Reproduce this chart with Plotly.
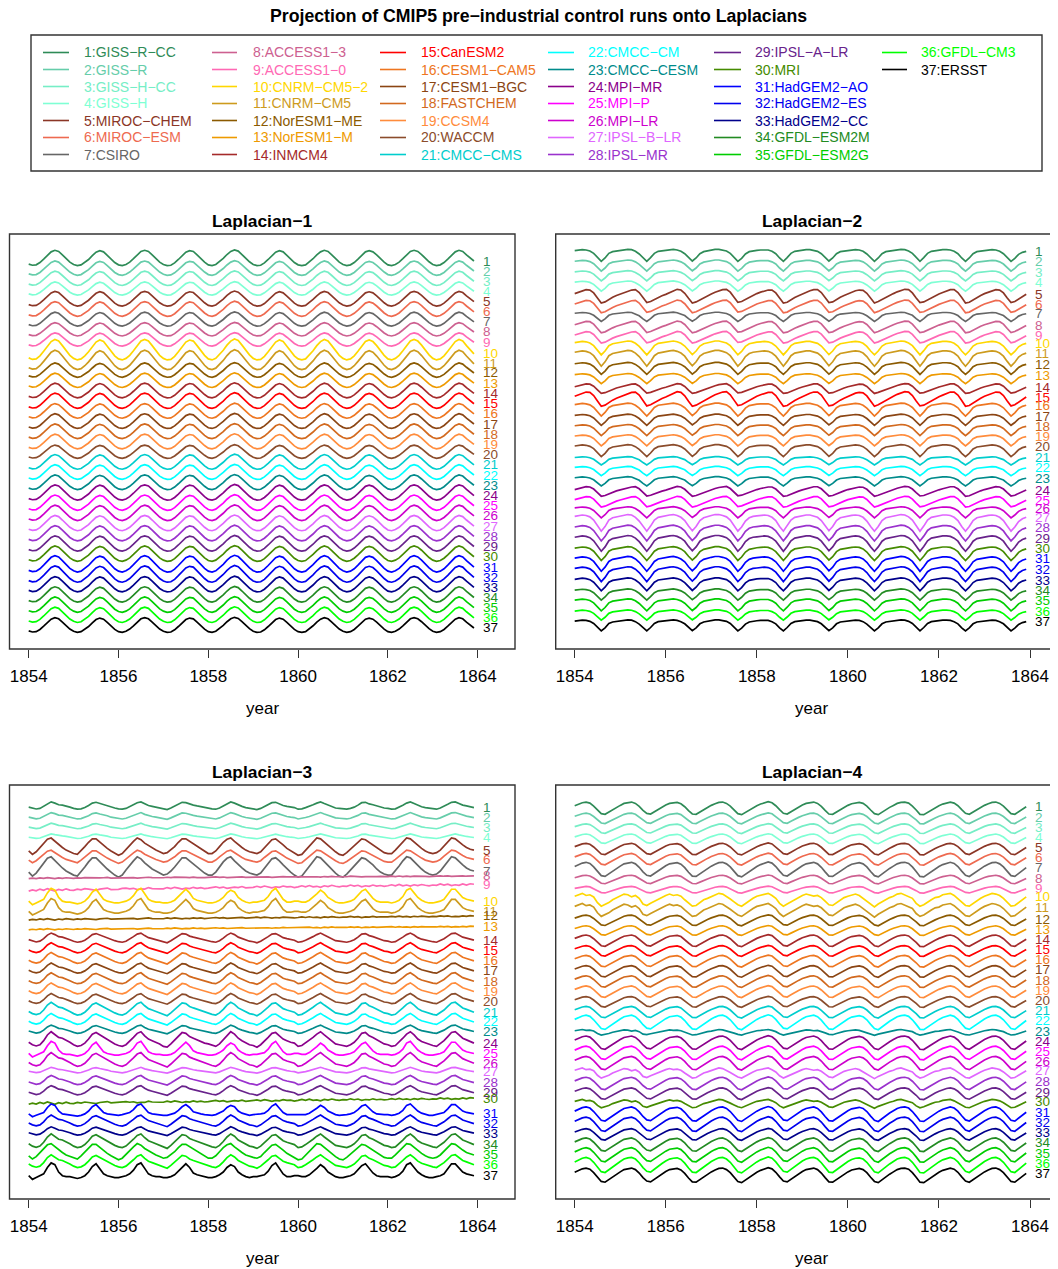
import plotly.graph_objects as go

PAGE_W, PAGE_H = 1058, 1269
OFF = 8  # default page margin around the figure
W, H = PAGE_W - OFF, PAGE_H - OFF
FONT = "Liberation Sans, Arial, Helvetica, sans-serif"
M = "\u2212"


def fx(px):
    return (px - OFF) / W


def fy(py):
    return 1 - (py - OFF) / H


models = ["GISS-R-CC", "GISS-R", "GISS-H-CC", "GISS-H", "MIROC-CHEM", "MIROC-ESM", "CSIRO",
          "ACCESS1-3", "ACCESS1-0", "CNRM-CM5-2", "CNRM-CM5", "NorESM1-ME", "NorESM1-M", "INMCM4",
          "CanESM2", "CESM1-CAM5", "CESM1-BGC", "FASTCHEM", "CCSM4", "WACCM", "CMCC-CMS",
          "CMCC-CM", "CMCC-CESM", "MPI-MR", "MPI-P", "MPI-LR", "IPSL-B-LR", "IPSL-MR",
          "IPSL-A-LR", "MRI", "HadGEM2-AO", "HadGEM2-ES", "HadGEM2-CC", "GFDL-ESM2M",
          "GFDL-ESM2G", "GFDL-CM3", "ERSST"]
colors = ["#2E8B57", "#66CDAA", "#76EEC6", "#7FFFD4", "#8B3626", "#EE6A50", "#666666",
          "#CD6090", "#FF69B4", "#FFD700", "#CD9B1D", "#8B5A00", "#EE9A00", "#A52A2A",
          "#FF0000", "#EE7621", "#8B4513", "#D2691E", "#FF8C3C", "#8B4C2B", "#00CDCD",
          "#00FFFF", "#008B8B", "#8B008B", "#FF00FF", "#CD00CD", "#E066FF", "#9A32CD",
          "#68228B", "#458B00", "#0000FF", "#0000EE", "#00008B", "#228B22", "#00CD00",
          "#00FF00", "#000000"]

years = list(range(1854, 1864))
tick_years = [1854, 1856, 1858, 1860, 1862, 1864]

# monthly shapes (one row per year, Jan..Dec)
wave_l1 = [
    [-0.8, -0.95, -0.9, -0.6, -0.15, 0.35, 0.8, 1.0, 0.85, 0.4, -0.1, -0.55],
    [-0.85, -1.0, -0.9, -0.6, -0.2, 0.3, 0.75, 0.95, 0.8, 0.35, -0.15, -0.6],
    [-0.9, -1.0, -0.85, -0.55, -0.1, 0.4, 0.85, 1.0, 0.85, 0.4, -0.1, -0.55],
    [-0.85, -1.0, -0.95, -0.65, -0.2, 0.3, 0.75, 0.95, 0.85, 0.4, -0.1, -0.55],
    [-0.9, -1.0, -0.85, -0.5, -0.05, 0.45, 0.85, 1.05, 0.9, 0.45, -0.05, -0.5],
    [-0.85, -1.0, -0.95, -0.65, -0.2, 0.3, 0.75, 0.95, 0.8, 0.35, -0.15, -0.6],
    [-0.9, -1.0, -0.9, -0.55, -0.1, 0.4, 0.8, 1.0, 0.85, 0.4, -0.1, -0.55],
    [-0.85, -1.0, -0.9, -0.6, -0.15, 0.35, 0.8, 0.95, 0.8, 0.4, -0.1, -0.55],
    [-0.9, -1.0, -0.85, -0.55, -0.1, 0.4, 0.85, 1.0, 0.85, 0.45, -0.05, -0.5],
    [-0.85, -1.0, -0.9, -0.6, -0.15, 0.35, 0.8, 1.0, 0.85, 0.4, -0.05, -0.4],
]
wave_l2a = [
    [0.6, 0.7, 0.75, 0.7, 0.55, 0.2, -0.45, -1.0, -0.5, 0.2, 0.45, 0.55],
    [0.6, 0.75, 0.8, 0.75, 0.5, 0.1, -0.5, -1.0, -0.45, 0.2, 0.5, 0.6],
    [0.65, 0.75, 0.8, 0.7, 0.5, 0.15, -0.45, -0.95, -0.5, 0.15, 0.45, 0.6],
    [0.7, 0.8, 0.8, 0.7, 0.55, 0.2, -0.4, -1.0, -0.55, 0.1, 0.45, 0.6],
    [0.65, 0.7, 0.75, 0.7, 0.5, 0.15, -0.5, -1.0, -0.45, 0.2, 0.5, 0.6],
    [0.65, 0.75, 0.75, 0.65, 0.5, 0.15, -0.4, -0.95, -0.5, 0.15, 0.45, 0.55],
    [0.6, 0.7, 0.75, 0.7, 0.5, 0.1, -0.5, -1.0, -0.5, 0.15, 0.45, 0.55],
    [0.6, 0.7, 0.8, 0.75, 0.55, 0.2, -0.45, -1.0, -0.45, 0.2, 0.5, 0.6],
    [0.65, 0.75, 0.75, 0.7, 0.5, 0.15, -0.5, -1.0, -0.5, 0.15, 0.45, 0.55],
    [0.6, 0.7, 0.75, 0.7, 0.5, 0.15, -0.45, -1.0, -0.55, 0.05, 0.35, 0.5],
]
wave_l2b = [
    [0.3, 0.5, 0.7, 0.85, 0.8, 0.4, -0.3, -1.0, -0.85, -0.5, -0.2, 0.05],
    [0.25, 0.45, 0.65, 0.8, 0.85, 0.45, -0.25, -0.95, -0.8, -0.5, -0.25, 0.0],
    [0.2, 0.45, 0.7, 0.9, 0.8, 0.35, -0.35, -1.0, -0.85, -0.55, -0.25, 0.0],
    [0.25, 0.5, 0.7, 0.85, 0.9, 0.5, -0.2, -0.9, -0.8, -0.5, -0.2, 0.05],
    [0.3, 0.5, 0.65, 0.8, 0.8, 0.4, -0.3, -1.0, -0.9, -0.55, -0.25, 0.0],
    [0.25, 0.45, 0.7, 0.85, 0.85, 0.45, -0.25, -0.95, -0.85, -0.5, -0.2, 0.05],
    [0.3, 0.5, 0.7, 0.8, 0.75, 0.35, -0.35, -1.0, -0.8, -0.5, -0.2, 0.05],
    [0.3, 0.55, 0.75, 0.9, 0.85, 0.4, -0.3, -0.95, -0.85, -0.55, -0.25, 0.0],
    [0.25, 0.45, 0.65, 0.85, 0.85, 0.45, -0.25, -1.0, -0.9, -0.55, -0.2, 0.05],
    [0.3, 0.5, 0.7, 0.85, 0.8, 0.4, -0.3, -0.95, -0.8, -0.45, -0.1, 0.2],
]
wave_l3a = [
    [-0.3, -0.6, -0.75, -0.6, -0.1, 0.6, 1.0, 0.7, 0.3, 0.2, 0.0, -0.3],
    [-0.6, -0.8, -0.7, -0.4, 0.1, 0.7, 0.9, 0.6, 0.4, 0.1, -0.3, -0.5],
    [-0.7, -0.8, -0.6, -0.2, 0.3, 0.8, 1.0, 0.5, 0.1, -0.1, -0.3, -0.5],
    [-0.8, -0.9, -0.5, 0.0, 0.4, 0.9, 0.8, 0.4, 0.2, 0.0, -0.2, -0.4],
    [-0.5, -0.7, -0.8, -0.5, 0.0, 0.6, 1.0, 0.7, 0.2, -0.1, -0.4, -0.6],
    [-0.7, -0.9, -0.6, -0.2, 0.3, 0.8, 0.9, 0.5, 0.1, -0.1, -0.3, -0.4],
    [-0.8, -0.7, -0.4, -0.1, 0.3, 0.7, 1.0, 0.6, 0.2, -0.2, -0.5, -0.6],
    [-0.7, -0.8, -0.6, -0.3, 0.2, 0.8, 0.9, 0.5, 0.3, 0.0, -0.3, -0.5],
    [-0.6, -0.8, -0.7, -0.3, 0.2, 0.7, 1.0, 0.6, 0.1, -0.2, -0.4, -0.5],
    [-0.7, -0.8, -0.5, -0.1, 0.4, 0.9, 1.0, 0.6, 0.2, 0.0, -0.2, -0.4],
]
wave_l3b = [
    [-0.5, -0.9, -0.6, -0.1, 0.4, 0.85, 1.0, 0.6, 0.2, -0.1, -0.4, -0.6],
    [-0.8, -0.9, -0.5, 0.0, 0.5, 0.9, 0.9, 0.5, 0.1, -0.2, -0.5, -0.8],
    [-1.0, -0.8, -0.3, 0.2, 0.6, 1.0, 0.8, 0.4, 0.1, -0.2, -0.4, -0.6],
    [-0.8, -0.7, -0.4, 0.0, 0.5, 0.9, 0.9, 0.6, 0.3, 0.0, -0.3, -0.6],
    [-0.8, -0.8, -0.5, 0.0, 0.5, 0.85, 1.0, 0.6, 0.2, -0.1, -0.4, -0.6],
    [-0.7, -0.8, -0.6, -0.1, 0.4, 0.8, 0.9, 0.6, 0.2, -0.2, -0.5, -0.8],
    [-1.0, -0.9, -0.4, 0.1, 0.6, 1.0, 0.9, 0.5, 0.1, -0.3, -0.6, -0.9],
    [-1.0, -0.7, -0.3, 0.2, 0.6, 0.9, 0.8, 0.5, 0.2, -0.2, -0.5, -0.7],
    [-0.8, -0.8, -0.4, 0.1, 0.6, 1.0, 0.9, 0.5, 0.1, -0.2, -0.5, -0.7],
    [-0.8, -0.7, -0.4, 0.1, 0.6, 1.0, 0.9, 0.5, 0.2, -0.1, -0.3, -0.4],
]
wave_l3c = [
    [-0.75, -0.5, -0.7, -0.35, -0.6, -0.25, -0.5, -0.75, -0.4, -0.6, -0.3, -0.55],
    [-0.6, -0.35, -0.5, -0.25, -0.35, -0.45, -0.6, -0.35, -0.3, -0.15, -0.45, -0.4],
    [-0.4, -0.2, -0.15, -0.3, -0.2, -0.45, -0.3, -0.35, -0.05, -0.25, -0.35, -0.3],
    [-0.3, -0.05, -0.25, 0.0, -0.15, -0.35, -0.15, -0.25, 0.0, -0.2, -0.05, -0.25],
    [-0.15, 0.05, 0.1, -0.1, 0.05, -0.2, -0.1, 0.05, -0.05, 0.15, -0.1, -0.05],
    [0.0, 0.2, 0.0, 0.25, 0.1, -0.1, 0.1, 0.0, 0.25, 0.1, 0.15, -0.05],
    [0.1, 0.3, 0.1, 0.35, 0.1, 0.2, 0.0, 0.3, 0.15, 0.4, 0.2, 0.1],
    [0.25, 0.2, 0.45, 0.25, 0.4, 0.1, 0.3, 0.2, 0.45, 0.25, 0.35, 0.2],
    [0.3, 0.5, 0.3, 0.55, 0.3, 0.45, 0.25, 0.5, 0.35, 0.55, 0.4, 0.3],
    [0.45, 0.4, 0.65, 0.45, 0.6, 0.35, 0.5, 0.4, 0.65, 0.45, 0.7, 0.6],
]
wave_l3d = [
    [-0.4, -0.8, -0.6, -0.4, -0.2, 0.5, 1.0, 0.8, 0.0, -0.4, -0.5, -0.5],
    [-0.6, -0.7, -0.6, -0.4, 0.0, 0.6, 0.9, 0.3, -0.2, -0.4, -0.5, -0.6],
    [-0.6, -0.5, -0.4, -0.2, 0.2, 0.8, 1.0, 0.4, -0.2, -0.4, -0.5, -0.5],
    [-0.6, -0.6, -0.5, -0.3, 0.1, 0.6, 0.9, 0.5, -0.1, -0.3, -0.4, -0.5],
    [-0.6, -0.6, -0.5, -0.3, 0.0, 0.5, 0.8, 0.6, 0.0, -0.3, -0.5, -0.6],
    [-0.5, -0.5, -0.4, -0.3, 0.1, 0.7, 1.0, 0.4, -0.2, -0.5, -0.5, -0.4],
    [-0.4, -0.5, -0.5, -0.3, 0.0, 0.4, 0.8, 0.5, 0.0, -0.3, -0.5, -0.6],
    [-0.6, -0.5, -0.4, -0.2, 0.2, 0.7, 0.9, 0.4, -0.1, -0.4, -0.5, -0.5],
    [-0.5, -0.6, -0.5, -0.3, 0.1, 0.8, 1.0, 0.5, 0.0, -0.3, -0.5, -0.6],
    [-0.6, -0.5, -0.4, -0.2, 0.3, 0.9, 0.9, 0.4, 0.0, -0.2, -0.3, -0.4],
]
wave_l4a = [
    [0.35, 0.6, 0.8, 0.9, 0.75, 0.3, -0.3, -0.85, -0.95, -0.6, -0.2, 0.1],
    [0.4, 0.7, 0.85, 0.9, 0.7, 0.25, -0.35, -0.8, -0.9, -0.55, -0.15, 0.15],
    [0.45, 0.7, 0.8, 0.85, 0.65, 0.2, -0.4, -0.9, -0.95, -0.6, -0.2, 0.1],
    [0.4, 0.65, 0.85, 0.9, 0.7, 0.3, -0.3, -0.85, -1.0, -0.65, -0.25, 0.05],
    [0.35, 0.6, 0.8, 0.95, 0.8, 0.35, -0.25, -0.8, -0.9, -0.55, -0.15, 0.15],
    [0.45, 0.7, 0.85, 0.9, 0.7, 0.25, -0.35, -0.9, -0.95, -0.6, -0.2, 0.1],
    [0.4, 0.65, 0.8, 0.85, 0.7, 0.3, -0.3, -0.85, -1.0, -0.6, -0.2, 0.1],
    [0.4, 0.7, 0.85, 0.9, 0.75, 0.3, -0.3, -0.95, -1.0, -0.65, -0.25, 0.05],
    [0.35, 0.6, 0.8, 0.9, 0.75, 0.35, -0.25, -0.8, -0.95, -0.6, -0.2, 0.1],
    [0.4, 0.65, 0.85, 0.9, 0.7, 0.3, -0.3, -0.85, -0.95, -0.55, -0.15, 0.2],
]
wave_l4b = [
    [0.5, 0.7, 0.9, 0.6, 0.7, 0.4, -0.4, -0.9, -0.7, -0.4, 0.0, 0.3],
    [0.5, 0.8, 0.7, 0.4, 0.6, 0.2, -0.6, -0.8, -0.5, -0.2, 0.1, 0.3],
    [0.6, 0.8, 0.6, 0.7, 0.5, 0.0, -0.5, -0.9, -0.8, -0.4, 0.0, 0.2],
    [0.4, 0.7, 0.9, 0.8, 0.5, 0.1, -0.3, -0.7, -0.9, -0.5, -0.1, 0.2],
    [0.5, 0.6, 0.8, 0.9, 0.6, 0.2, -0.5, -0.9, -0.6, -0.3, 0.1, 0.4],
    [0.6, 0.8, 0.7, 0.5, 0.6, 0.3, -0.2, -0.7, -0.8, -0.4, 0.0, 0.3],
    [0.5, 0.7, 0.8, 0.6, 0.2, -0.3, -0.7, -1.0, -0.6, -0.3, 0.1, 0.3],
    [0.5, 0.8, 0.9, 0.7, 0.5, 0.2, -0.5, -0.9, -0.7, -0.3, 0.0, 0.3],
    [0.4, 0.7, 0.8, 0.9, 0.6, 0.1, -0.4, -0.8, -0.9, -0.5, -0.1, 0.2],
    [0.5, 0.7, 0.9, 0.8, 0.6, 0.2, -0.4, -0.9, -0.8, -0.4, 0.0, 0.4],
]

# per-series shape choice and amplitude (stack units) in each panel
shape_l1 = ["a"] * 37
amp_l1 = [0.75, 0.7, 0.7, 0.65, 0.72, 0.72, 0.68, 0.65, 0.65, 1.0, 0.95, 0.7, 0.7, 0.72, 0.75,
          0.72, 0.72, 0.72, 0.72, 0.65, 0.72, 0.72, 0.72, 0.75, 0.75, 0.75, 0.75, 0.75, 0.75,
          0.75, 0.8, 0.8, 0.75, 0.75, 0.75, 0.75, 0.72]
shape_l2 = ["a", "a", "a", "a", "b", "b", "a", "b", "b", "a", "a", "a", "a", "b", "b", "a", "a",
            "a", "a", "a", "a", "a", "a", "b", "b", "a", "a", "a", "a", "a", "a", "a", "a", "a",
            "a", "a", "a"]
amp_l2 = [0.65, 0.6, 0.55, 0.55, 0.7, 0.65, 0.5, 0.6, 0.6, 0.75, 0.85, 0.65, 0.55, 0.5, 0.75,
          0.7, 0.6, 0.6, 0.6, 0.65, 0.45, 0.5, 0.5, 0.5, 0.55, 0.6, 0.9, 0.85, 0.85, 0.75, 0.8,
          0.8, 0.7, 0.6, 0.65, 0.55, 0.6]
shape_l3 = ["a", "a", "a", "a", "b", "b", "b", "c", "c", "d", "d", "c", "c", "a", "a", "a", "a",
            "a", "a", "a", "a", "a", "a", "a", "d", "a", "a", "a", "a", "c", "d", "a", "a", "a",
            "b", "a", "d"]
amp_l3 = [0.4, 0.35, 0.3, 0.25, 0.85, 0.65, 1.0, 0.2, 0.5, 0.9, 0.9, 0.3, 0.25, 0.5, 0.55,
          0.6, 0.55, 0.6, 0.6, 0.55, 0.7, 0.6, 0.45, 0.8, 0.85, 0.75, 0.3, 0.5, 0.5, 0.45, 0.7,
          0.6, 0.45, 0.75, 0.8, 0.7, 0.9]
shape_l4 = ["a"] * 9 + ["b", "b"] + ["a"] * 11 + ["b", "a", "a", "a", "b", "a", "a", "b"] + ["a"] * 7
amp_l4 = [0.65, 0.55, 0.5, 0.5, 0.6, 0.6, 0.75, 0.45, 0.35, 0.7, 0.7, 0.55, 0.5, 0.6, 0.55,
          0.6, 0.6, 0.6, 0.6, 0.55, 0.6, 0.75, 0.3, 0.7, 0.7, 0.7, 0.55, 0.65, 0.6, 0.45, 0.75,
          0.75, 0.6, 0.7, 0.75, 0.8, 0.75]


def flat(rows):
    return [v for r in rows for v in r]


time = [y + m / 12.0 for y in years for m in range(12)]

# panel geometry in page pixels: frame left/right, top/bottom, px of 1854, px per year
panels = [
    dict(title="Laplacian" + M + "1", waves={"a": wave_l1}, shapes=shape_l1, amps=amp_l1,
         px=(9.5, 515.0), py=(234.0, 649.0), t0=28.7, ppy=44.9, yr=(-38.35, 2.35)),
    dict(title="Laplacian" + M + "2", waves={"a": wave_l2a, "b": wave_l2b}, shapes=shape_l2,
         amps=amp_l2, px=(555.7, 1068.0), py=(234.0, 649.0), t0=574.7, ppy=45.53, yr=(-38.36, 2.01)),
    dict(title="Laplacian" + M + "3", waves={"a": wave_l3a, "b": wave_l3b, "c": wave_l3c,
                                           "d": wave_l3d}, shapes=shape_l3, amps=amp_l3,
         px=(9.5, 515.0), py=(785.0, 1199.0), t0=28.7, ppy=44.9, yr=(-38.65, 2.06)),
    dict(title="Laplacian" + M + "4", waves={"a": wave_l4a, "b": wave_l4b}, shapes=shape_l4,
         amps=amp_l4, px=(555.7, 1068.0), py=(785.0, 1199.0), t0=574.7, ppy=45.53, yr=(-38.36, 2.26)),
]

fig = go.Figure()
annotations = []
shapes = []
layout_axes = {}

for p, P in enumerate(panels, start=1):
    xa = "x" if p == 1 else "x%d" % p
    ya = "y" if p == 1 else "y%d" % p
    x0px, x1px = P["px"]
    y0px, y1px = P["py"]
    vis_right = min(x1px, PAGE_W)
    xr0 = 1854 - (P["t0"] - x0px) / P["ppy"]
    xr1 = 1854 + (vis_right - P["t0"]) / P["ppy"]
    for i in range(37):
        wave = flat(P["waves"][P["shapes"][i]])
        yv = [-i + P["amps"][i] * v for v in wave]
        fig.add_trace(go.Scatter(x=time, y=yv, mode="lines", xaxis=xa, yaxis=ya,
                                 line=dict(color=colors[i], width=1.7), showlegend=False,
                                 hoverinfo="skip"))
        annotations.append(dict(x=1864.07, y=yv[-1], xref=xa, yref=ya, text=str(i + 1),
                                showarrow=False, xanchor="left", yanchor="middle",
                                font=dict(family=FONT, size=13.5, color=colors[i])))
    layout_axes["xaxis" if p == 1 else "xaxis%d" % p] = dict(
        domain=[fx(x0px), min(fx(vis_right), 1.0)], range=[xr0, xr1], anchor=ya,
        showgrid=False, zeroline=False, showline=False, tickmode="array",
        tickvals=tick_years, ticktext=[str(t) for t in tick_years], ticks="outside",
        ticklen=8, tickwidth=1.2, tickcolor="#333333", ticklabelstandoff=4,
        tickfont=dict(family=FONT, size=17, color="#000000"))
    layout_axes["yaxis" if p == 1 else "yaxis%d" % p] = dict(
        domain=[fy(y1px), fy(y0px)], range=list(P["yr"]), anchor=xa, visible=False)
    # frame (the right panels run past the page edge)
    shapes.append(dict(type="rect", xref="paper", yref="paper", x0=fx(x0px), x1=fx(x1px),
                       y0=fy(y1px), y1=fy(y0px), line=dict(color="#333333", width=1.4),
                       fillcolor="rgba(0,0,0,0)"))
    cx = (x0px + x1px) / 2.0
    annotations.append(dict(x=fx(cx), y=fy(y0px - 13), xref="paper", yref="paper",
                            text="<b>%s</b>" % P["title"], showarrow=False, xanchor="center",
                            yanchor="middle", font=dict(family=FONT, size=17.4, color="#000000")))
    annotations.append(dict(x=fx(cx), y=fy(y1px + 59), xref="paper", yref="paper",
                            text="year", showarrow=False, xanchor="center", yanchor="middle",
                            font=dict(family=FONT, size=17, color="#000000")))

# main title
annotations.append(dict(x=fx(538), y=fy(16), xref="paper", yref="paper",
                        text="<b>Projection of CMIP5 pre" + M + "industrial control runs onto Laplacians</b>",
                        showarrow=False, xanchor="center", yanchor="middle",
                        font=dict(family=FONT, size=17.7, color="#000000")))

# legend box
shapes.append(dict(type="rect", xref="paper", yref="paper", x0=fx(31), x1=fx(1042),
                   y0=fy(171), y1=fy(35), line=dict(color="#333333", width=1.4),
                   fillcolor="rgba(0,0,0,0)"))
leg_cols = [(43, 69, 82), (212, 237, 251), (380, 406, 419), (548, 574, 586), (714, 741, 753),
            (882, 907, 919)]
for i in range(37):
    c, r = divmod(i, 7)
    lx0, lx1, tx = leg_cols[c]
    yy = fy(52.5 + 17.0 * r)
    shapes.append(dict(type="line", xref="paper", yref="paper", x0=fx(lx0), x1=fx(lx1),
                       y0=yy, y1=yy, line=dict(color=colors[i], width=1.6)))
    annotations.append(dict(x=fx(tx), y=yy, xref="paper", yref="paper",
                            text="%d:%s" % (i + 1, models[i].replace("-", M)), showarrow=False,
                            xanchor="left", yanchor="middle",
                            font=dict(family=FONT, size=14, color=colors[i])))

fig.update_layout(width=W, height=H, margin=dict(l=0, r=0, t=0, b=0), autosize=False,
                  paper_bgcolor="white", plot_bgcolor="white", showlegend=False,
                  annotations=annotations, shapes=shapes, **layout_axes)

fig.write_html("out.html")
